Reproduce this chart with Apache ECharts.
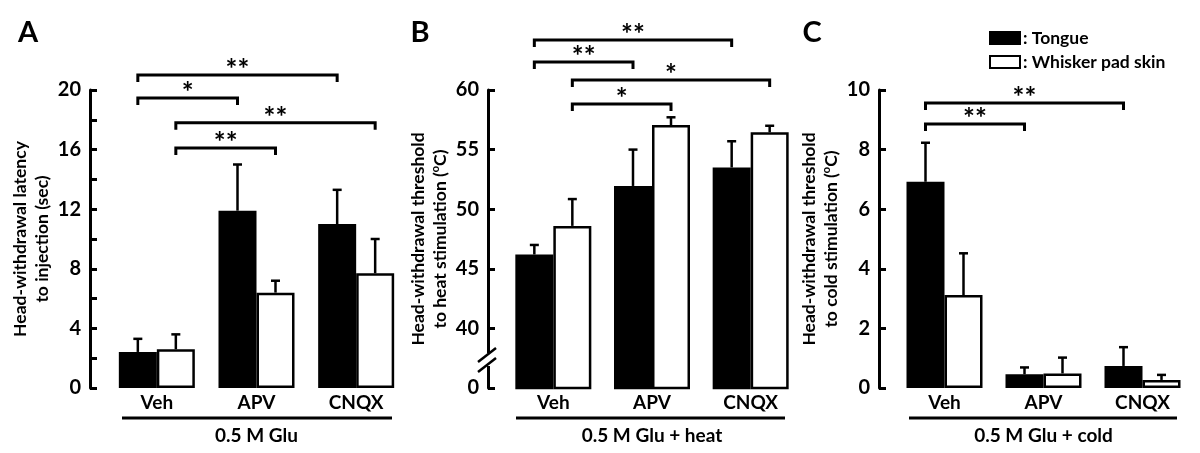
<!DOCTYPE html>
<html><head><meta charset="utf-8">
<script src="https://cdn.jsdelivr.net/npm/echarts@6/dist/echarts.min.js"></script>
<style>html,body{margin:0;padding:0;background:#fff}#c{width:1200px;height:453px}</style>
</head><body><div id="c"></div>
<script>
const categories = ['Veh', 'APV', 'CNQX'];
const seriesNames = ['Tongue', 'Whisker pad skin'];

// Panel A: latency (sec)
const tongueA = [2.42, 11.9, 11.0];
const whiskerA = [2.6, 6.4, 7.7];
const tongueSemA = [0.88, 3.1, 2.3];
const whiskerSemA = [1.0, 0.8, 2.3];
// Panel B: heat threshold (°C)
const tongueB = [46.2, 51.95, 53.5];
const whiskerB = [48.6, 57.06, 56.45];
const tongueSemB = [0.8, 3.05, 2.2];
const whiskerSemB = [2.25, 0.65, 0.55];
// Panel C: cold threshold (°C)
const tongueC = [6.92, 0.46, 0.74];
const whiskerC = [3.12, 0.49, 0.27];
const tongueSemC = [1.31, 0.23, 0.63];
const whiskerSemC = [1.4, 0.53, 0.17];

// Tick labels
const yTickLabelsA = ['0', '4', '8', '12', '16', '20'];
const yTickValuesB = [35, 40, 45, 50, 55, 60];
const yTickLabelsB = ['0', '40', '45', '50', '55', '60'];
const yTickLabelsC = ['0', '2', '4', '6', '8', '10'];

const panelLetters = ['A', 'B', 'C'];
const groupLabels = ['0.5 M Glu', '0.5 M Glu + heat', '0.5 M Glu + cold'];

// Significance brackets: [fromCategory, fromSeries, toCategory, toSeries, level]
const bracketsA = [[0, 0, 2, 0, 21.0], [0, 0, 1, 0, 19.46], [0, 1, 2, 1, 17.8], [0, 1, 1, 1, 16.1]];
const bracketLabelsA = ['**', '*', '**', '**'];
const bracketsB = [[0, 0, 2, 0, 64.2], [0, 0, 1, 0, 62.35], [0, 1, 2, 1, 60.84], [0, 1, 1, 1, 58.83]];
const bracketLabelsB = ['**', '**', '*', '*'];
const bracketsC = [[0, 0, 2, 0, 9.56], [0, 0, 1, 0, 8.86]];
const bracketLabelsC = ['**', '**'];

const FONT = 'Lato';
const BAR_W = 38;
const LEG = 7;

function errorRender(side) {
  return function (params, api) {
    const c = api.value(0), m = api.value(1), s = api.value(2);
    const p0 = api.coord([c, m]);
    const p1 = api.coord([c, m + s]);
    const x = p0[0] + side * BAR_W / 2;
    return {
      type: 'group', children: [
        { type: 'line', shape: { x1: x, y1: p0[1], x2: x, y2: p1[1] }, style: { stroke: '#000', lineWidth: 2.5 } },
        { type: 'line', shape: { x1: x - 4.5, y1: p1[1], x2: x + 4.5, y2: p1[1] }, style: { stroke: '#000', lineWidth: 2.5 } }
      ]
    };
  };
}
function bracketRender(labels) {
  return function (params, api) {
    const c1 = api.value(0), s1 = api.value(1), c2 = api.value(2), s2 = api.value(3), lv = api.value(4);
    const a = api.coord([c1, lv]), b = api.coord([c2, lv]);
    const x1 = a[0] + (s1 ? 1 : -1) * BAR_W / 2;
    const x2 = b[0] + (s2 ? 1 : -1) * BAR_W / 2;
    const y = a[1];
    return {
      type: 'group', children: [
        { type: 'polyline', shape: { points: [[x1, y + LEG], [x1, y], [x2, y], [x2, y + LEG]] }, style: { stroke: '#000', lineWidth: 3, fill: null } },
        { type: 'text', x: (x1 + x2) / 2, y: y + 9, style: { text: labels[params.dataIndex], font: 'bold 28px ' + FONT, fill: '#000', align: 'center', verticalAlign: 'bottom' } }
      ]
    };
  };
}

const panels = [
  { t: tongueA, w: whiskerA, ts: tongueSemA, ws: whiskerSemA, br: bracketsA, bl: bracketLabelsA,
    grid: { left: 107, right: 794 }, offset: 17,
    y: { min: 0, max: 20, interval: 2, formatter: v => yTickLabelsA.includes(String(v)) ? String(v) : '' },
    name: 'Head-withdrawal latency\nto injection (sec)' },
  { t: tongueB, w: whiskerB, ts: tongueSemB, ws: whiskerSemB, br: bracketsB, bl: bracketLabelsB,
    grid: { left: 504, right: 400 }, offset: 16,
    y: { min: 35, max: 60, interval: 5, formatter: v => { const i = yTickValuesB.indexOf(v); return i >= 0 ? yTickLabelsB[i] : ''; } },
    name: 'Head-withdrawal threshold\nto heat stimulation ({sup|o}C)' },
  { t: tongueC, w: whiskerC, ts: tongueSemC, ws: whiskerSemC, br: bracketsC, bl: bracketLabelsC,
    grid: { left: 895, right: 8 }, offset: 16,
    y: { min: 0, max: 10, interval: 2, formatter: v => yTickLabelsC.includes(String(v)) ? String(v) : '' },
    name: 'Head-withdrawal threshold\nto cold stimulation ({sup|o}C)' }
];

const grids = [], xAxes = [], yAxes = [], series = [];
panels.forEach((p, i) => {
  grids.push({ left: p.grid.left, right: p.grid.right, top: 90, bottom: 65, outerBoundsMode: 'none', containLabel: false });
  xAxes.push({
    type: 'category', gridIndex: i, data: categories,
    axisLine: { show: false }, axisTick: { show: false },
    axisLabel: { color: '#000', fontFamily: FONT, fontWeight: 'bold', fontSize: 19, margin: 5, interval: 0 },
    name: groupLabels[i], nameLocation: 'middle', nameGap: 38, nameMoveOverlap: false,
    nameTextStyle: { color: '#000', fontFamily: FONT, fontWeight: 'bold', fontSize: 19 }
  });
  yAxes.push({
    type: 'value', gridIndex: i, min: p.y.min, max: p.y.max, interval: p.y.interval, offset: p.offset,
    splitLine: { show: false },
    axisLine: { show: true, lineStyle: { color: '#000', width: 3 } },
    axisTick: { show: true, inside: true, length: 7, lineStyle: { color: '#000', width: 3 } },
    axisLabel: { color: '#000', fontFamily: FONT, fontWeight: 'bold', fontSize: 20, margin: 9, formatter: p.y.formatter },
    name: p.name, nameLocation: 'middle', nameRotate: 90, nameGap: 37, nameMoveOverlap: false,
    nameTextStyle: {
      color: '#000', fontFamily: FONT, fontWeight: 'bold', fontSize: 17.5, lineHeight: 21.5, align: 'center',
      rich: { sup: { fontSize: 11, fontFamily: FONT, fontWeight: 'bold', color: '#000', verticalAlign: 'top', lineHeight: 21.5 } }
    }
  });
  series.push({
    name: seriesNames[0], type: 'bar', xAxisIndex: i, yAxisIndex: i, data: p.t,
    barWidth: BAR_W, barGap: '0%', clip: true,
    itemStyle: { color: '#000', borderColor: '#000', borderWidth: 2.5 }
  });
  series.push({
    name: seriesNames[1], type: 'bar', xAxisIndex: i, yAxisIndex: i, data: p.w,
    barWidth: BAR_W, barGap: '0%', clip: true,
    itemStyle: { color: '#fff', borderColor: '#000', borderWidth: 2.5 }
  });
  series.push({
    name: 'errT' + i, type: 'custom', xAxisIndex: i, yAxisIndex: i, renderItem: errorRender(-1),
    encode: { x: 0, y: 1 }, data: p.t.map((m, k) => [k, m, p.ts[k]]), z: 3
  });
  series.push({
    name: 'errW' + i, type: 'custom', xAxisIndex: i, yAxisIndex: i, renderItem: errorRender(1),
    encode: { x: 0, y: 1 }, data: p.w.map((m, k) => [k, m, p.ws[k]]), z: 3
  });
  series.push({
    name: 'br' + i, type: 'custom', xAxisIndex: i, yAxisIndex: i, renderItem: bracketRender(p.bl),
    encode: { x: 0, y: 4 }, data: p.br, z: 3, clip: false
  });
});

const graphic = [
  { type: 'text', x: 28, y: 33, style: { text: panelLetters[0], font: 'bold 29px ' + FONT, fill: '#000', align: 'center', verticalAlign: 'middle' } },
  { type: 'text', x: 420, y: 33, style: { text: panelLetters[1], font: 'bold 29px ' + FONT, fill: '#000', align: 'center', verticalAlign: 'middle' } },
  { type: 'text', x: 812, y: 33, style: { text: panelLetters[2], font: 'bold 29px ' + FONT, fill: '#000', align: 'center', verticalAlign: 'middle' } },
  { type: 'line', shape: { x1: 122, y1: 418, x2: 392, y2: 418 }, style: { stroke: '#000', lineWidth: 3 } },
  { type: 'line', shape: { x1: 516, y1: 418, x2: 785, y2: 418 }, style: { stroke: '#000', lineWidth: 3 } },
  { type: 'line', shape: { x1: 909, y1: 418, x2: 1177, y2: 418 }, style: { stroke: '#000', lineWidth: 3 } },
  { type: 'rect', shape: { x: 484, y: 353, width: 9, height: 13 }, style: { fill: '#fff' }, z: 100 },
  { type: 'line', shape: { x1: 478, y1: 362, x2: 496, y2: 348 }, style: { stroke: '#000', lineWidth: 2.5 }, z: 101 },
  { type: 'line', shape: { x1: 478, y1: 372, x2: 496, y2: 358 }, style: { stroke: '#000', lineWidth: 2.5 }, z: 101 }
];

const chart = echarts.init(document.getElementById('c'), null, { renderer: 'canvas' });
chart.setOption({
  animation: false,
  backgroundColor: '#fff',
  grid: grids, xAxis: xAxes, yAxis: yAxes, series: series,
  legend: {
    data: seriesNames, orient: 'vertical', left: 984, top: 24, itemWidth: 30, itemHeight: 12, itemGap: 6,
    icon: 'rect', selectedMode: false, formatter: ': {name}',
    textStyle: { color: '#000', fontFamily: FONT, fontWeight: 'bold', fontSize: 17.5, padding: [0, 0, 0, -2] }
  },
  graphic: graphic
});
</script></body></html>
